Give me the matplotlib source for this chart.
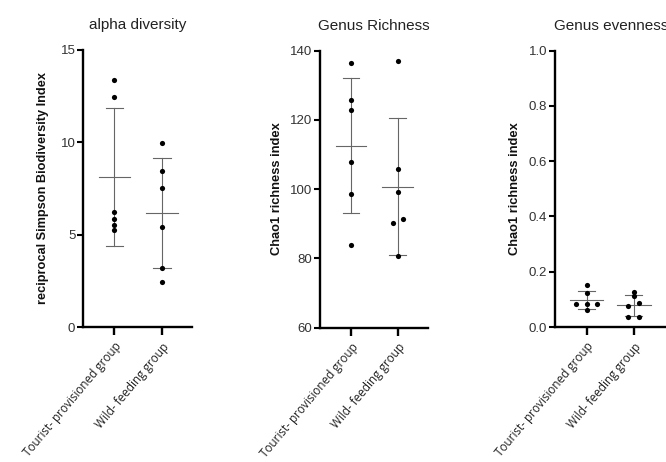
import numpy as np
import matplotlib
matplotlib.use("Agg")
import matplotlib.pyplot as plt

plt.rcParams['font.family'] = ['Liberation Sans', 'DejaVu Sans']

groups = ["Tourist- provisioned group", "Wild- feeding group"]

# alpha diversity (reciprocal Simpson)
simpson_tourist = [13.4, 12.45, 6.25, 5.87, 5.54, 5.23]
simpson_wild = [9.98, 8.45, 7.53, 5.43, 3.19, 2.45]

# genus richness (Chao1)
chao1_tourist = [136.4, 125.75, 122.8, 107.8, 98.5, 83.7]
chao1_wild = [137.1, 105.8, 99.2, 90.1, 91.3, 80.8]

# genus evenness
even_tourist = [0.153, 0.123, 0.083, 0.083, 0.083, 0.060]
even_wild = [0.126, 0.111, 0.075, 0.087, 0.035, 0.035]

# horizontal scatter offsets (Prism-style spreading of close points)
jit_simpson = [[0, 0, 0, 0, 0, 0], [0, 0, 0, 0, 0, 0]]
jit_chao1 = [[0, 0, 0, 0, 0, 0], [0, 0, 0, -0.11, 0.11, 0]]
jit_even = [[0, 0, -0.23, 0, 0.23, 0], [0, 0, -0.12, 0.11, -0.12, 0.11]]

W, H = 666, 462
fig = plt.figure(figsize=(W / 100, H / 100), dpi=100)


def make_axes(left, right, top, bottom):
    return fig.add_axes([left / W, (H - bottom) / H, (right - left) / W, (bottom - top) / H])


def draw_panel(ax, data, jit, title, ylabel, ylim, yticks, yfmt, xlim, half=0.33, labx=-0.3, ylsize=9.2):
    for s in ('top', 'right'):
        ax.spines[s].set_visible(False)
    for s in ('left', 'bottom'):
        ax.spines[s].set_linewidth(1.7)
    ax.spines['bottom'].set_position(('data', ylim[0]))
    for i, vals in enumerate(data):
        vals = np.array(vals)
        m = vals.mean()
        sd = vals.std(ddof=1)
        ax.scatter(i + np.array(jit[i]), vals, s=14, color='black', zorder=3, linewidths=0)
        ax.plot([i - half, i + half], [m, m], color='#666666', lw=0.8, zorder=2)
        ax.plot([i, i], [m - sd, m + sd], color='#666666', lw=0.8, zorder=2)
        for e in (m - sd, m + sd):
            ax.plot([i - 0.18, i + 0.18], [e, e], color='#666666', lw=0.8, zorder=2)
    ax.set_xlim(*xlim)
    ax.set_ylim(*ylim)
    ax.set_yticks(yticks)
    ax.set_yticklabels([yfmt.format(t) for t in yticks], fontsize=9.5, color='#333333')
    ax.set_xticks([0, 1])
    ax.set_xticklabels(groups, rotation=50, ha='right', va='top', rotation_mode='anchor',
                       fontsize=8.5, color='#222222', family=['Open Sans', 'DejaVu Sans'])
    ax.tick_params(axis='y', length=4.5, width=1.5, pad=1)
    ax.tick_params(axis='x', length=6, width=1.7, pad=3.5)
    ax.set_title(title, fontsize=11, color='#222222', pad=15)
    ax.set_ylabel(ylabel, fontsize=ylsize, fontweight='bold', color='#111111')
    ax.yaxis.set_label_coords(labx, 0.5)
    ax.patch.set_alpha(0)


ax1 = make_axes(83, 191.5, 50, 327)
draw_panel(ax1, [simpson_tourist, simpson_wild], jit_simpson, "alpha diversity",
           "reciprocal Simpson Biodiversity Index", (0, 15), [0, 5, 10, 15], "{:d}",
           (-0.66, 1.62), labx=-0.31)

ax2 = make_axes(319.7, 428, 50.7, 327.5)
draw_panel(ax2, [chao1_tourist, chao1_wild], jit_chao1, "Genus Richness",
           "Chao1 richness index", (60, 140), [60, 80, 100, 120, 140], "{:d}",
           (-0.67, 1.65), labx=-0.34, ylsize=9.3)

ax3 = make_axes(555, 667, 50.7, 327)
draw_panel(ax3, [even_tourist, even_wild], jit_even, "Genus evenness",
           "Chao1 richness index", (0, 1.0), [0.0, 0.2, 0.4, 0.6, 0.8, 1.0], "{:.1f}",
           (-0.67, 1.71), half=0.36, labx=-0.30, ylsize=9.3)

fig.savefig("out.png", dpi=100)
